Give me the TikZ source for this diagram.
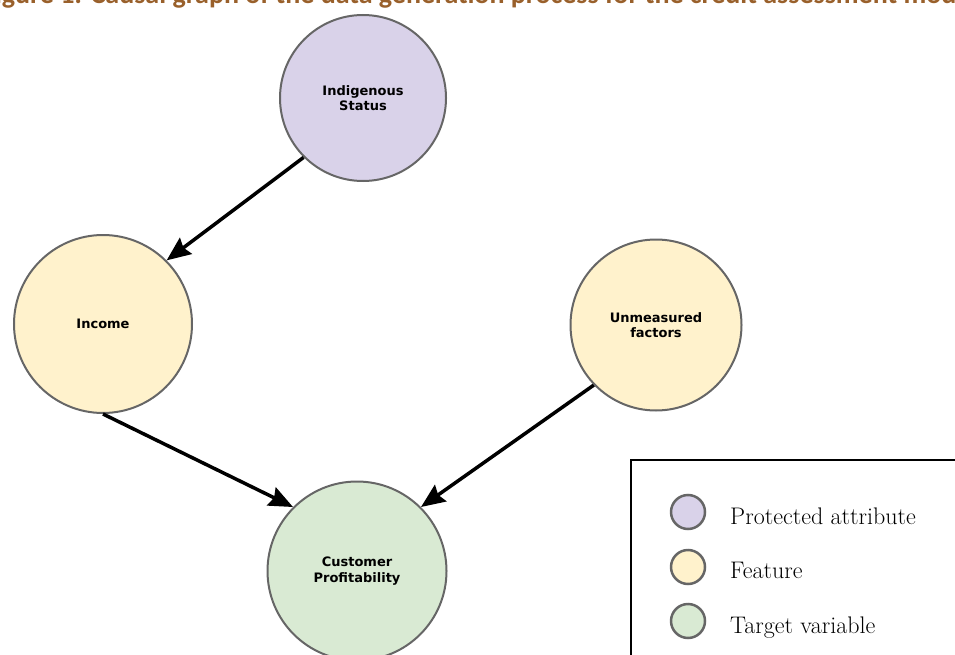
\documentclass[tikz,border=0pt]{standalone}
\usepackage{fontspec}
\newfontfamily\labelfont{DejaVu Sans}
\newfontfamily\titlefont{Carlito}
\usetikzlibrary{arrows.meta}
\definecolor{protfill}{RGB}{217,210,233}
\definecolor{featfill}{RGB}{255,242,204}
\definecolor{targfill}{RGB}{217,234,211}
\definecolor{rimgray}{RGB}{102,102,102}
\definecolor{titlebrown}{RGB}{153,96,43}
\begin{document}
\begin{tikzpicture}[x=1pt,y=-1pt]
\tikzstyle{vertex}=[draw=rimgray,line width=2pt,circle,inner sep=0pt,align=center,font=\labelfont\bfseries\fontsize{13}{15.3}\selectfont]
\tikzstyle{keydot}=[draw=rimgray,line width=2.5pt,circle,inner sep=0pt,minimum size=34pt]
\tikzstyle{keytext}=[anchor=base west,inner sep=0pt,font=\fontsize{24}{28}\selectfont]
\tikzstyle{edge}=[line width=3.5pt,-{Stealth[length=24pt,width=20pt,inset=3pt]}]
\useasboundingbox (0,0) rectangle (955,655);
\clip (0,0) rectangle (955,655);
% caption, cut off by the top edge
\node[anchor=base west,inner sep=0pt,text=titlebrown,font=\titlefont\bfseries\fontsize{28}{32}\selectfont] (cap) at (-18,4) {Figure 1: Causal graph of the data generation process for the credit assessment model};
% graph
\node[vertex,fill=protfill,minimum size=166pt] (0) at (363,98) {Indigenous\\Status};
\node[vertex,fill=featfill,minimum size=178pt] (1) at (103,324) {Income};
\node[vertex,fill=featfill,minimum size=171pt] (2) at (656,325) {Unmeasured\\factors};
\node[vertex,fill=targfill,minimum size=179pt] (3) at (357,571) {Customer\\Profitability};
\draw[edge] (0.225) -- (1.45);
\draw[edge] (1.south) -- (3.135);
\draw[edge] (2.224) -- (3.45);
% legend
\draw[line width=1.5pt] (631,680) -- (631,460) -- (980,460);
\node[keydot,fill=protfill] (k0) at (688,512) {};
\node[keydot,fill=featfill] (k1) at (688,567) {};
\node[keydot,fill=targfill] (k2) at (688,621) {};
\node[keytext] (t0) at (730,524) {Protected attribute};
\node[keytext] (t1) at (730,578) {Feature};
\node[keytext] (t2) at (730,633) {Target variable};
\end{tikzpicture}
\end{document}
